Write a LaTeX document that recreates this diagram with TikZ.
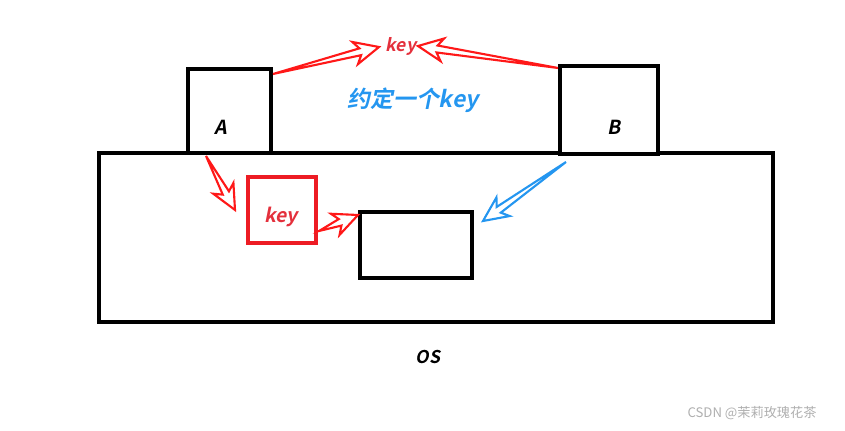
\documentclass[tikz,border=0pt]{standalone}
\usepackage{fontspec}
\usepackage{tikz}
\usetikzlibrary{calc,positioning}
\newfontfamily\ykfont{Noto Sans CJK SC Bold}[FakeSlant=0.2]
\newfontfamily\wmfont{Noto Sans CJK SC}
\definecolor{arrowRed}{RGB}{255,24,24}
\definecolor{keyRed}{RGB}{237,28,36}
\definecolor{keyText}{RGB}{228,48,60}
\definecolor{agreeBlue}{RGB}{36,150,240}
\definecolor{markGray}{RGB}{175,175,175}
\tikzset{
  frame/.style={rectangle, draw=black, line width=2.4pt, inner sep=0pt},
  labeltext/.style={font=\ykfont\fontsize{11}{13}\selectfont, inner sep=0pt},
  hollow/.style={line width=1.2pt, line join=miter}
}
% paint-style hollow arrow from #2 (tail) to #3 (tip)
\newcommand{\hollowarrow}[3]{%
  \draw[hollow, #1] (#2)
    -- ($(#3)!11pt!(#2)!2pt!90:(#2)$)
    -- ($(#3)!14pt!(#2)!6.5pt!90:(#2)$)
    -- (#3)
    -- ($(#3)!14pt!(#2)!6.5pt!-90:(#2)$)
    -- ($(#3)!11pt!(#2)!2pt!-90:(#2)$)
    -- cycle;}

\begin{document}
\begin{tikzpicture}[x=0.02cm, y=-0.02cm]
  \useasboundingbox (0,0) rectangle (845,431);

  % boxes
  \node[frame, minimum width=13.48cm, minimum height=3.38cm] (os) at (436,237.5) {};
  \node[frame, fill=white, minimum width=1.66cm, minimum height=1.68cm] (procA) at (229.5,111) {};
  \node[frame, fill=white, minimum width=1.96cm, minimum height=1.76cm] (procB) at (609,110) {};
  \node[frame, draw=keyRed, line width=1.8pt, minimum width=1.36cm, minimum height=1.32cm] (keybox) at (282,210) {};
  \node[frame, minimum width=2.24cm, minimum height=1.32cm] (shm) at (416,245) {};

  % texts
  \node[labeltext] (labA) at (221,127) {A};
  \node[labeltext] (labB) at (614,127) {B};
  \node[labeltext, text=keyText] (keyin) at (281,217) {key};
  \node[labeltext, text=keyText, font=\ykfont\fontsize{10}{12}\selectfont] (keytop) at (401,46) {key};
  \node[labeltext, text=agreeBlue, font=\ykfont\fontsize{13}{15}\selectfont] (agree) at (413,100) {约定一个key};
  \node[labeltext, font=\ykfont\fontsize{10}{12}\selectfont] (oslabel) at (428,357) {OS};
  \node[font=\wmfont\fontsize{7.5}{9}\selectfont, text=markGray, inner sep=0pt] (mark) at (752,413) {CSDN @茉莉玫瑰花茶};

  % arrow ends
  \coordinate (a1) at (273,74);   \coordinate (k1) at (379,47);
  \coordinate (b1) at (558,68);   \coordinate (k2) at (418,46);
  \coordinate (a2) at (206,156);  \coordinate (k3) at (235,210);
  \coordinate (k4) at (319,231);  \coordinate (s1) at (358,215);
  \coordinate (b2) at (566,162);  \coordinate (s2) at (483,221);

  \hollowarrow{arrowRed}{a1}{k1}
  \hollowarrow{arrowRed}{b1}{k2}
  \hollowarrow{arrowRed}{a2}{k3}
  \hollowarrow{arrowRed}{k4}{s1}
  \hollowarrow{agreeBlue}{b2}{s2}
\end{tikzpicture}
\end{document}
